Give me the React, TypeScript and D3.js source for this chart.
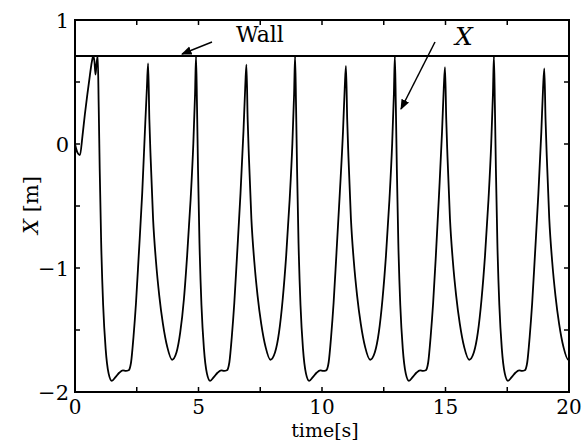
import * as d3 from "d3";

// time [s] and position X [m]
const timeS = [
  0, 0.1, 0.2, 0.3, 0.4, 0.5, 0.6, 0.68, 0.74, 0.79, 0.83, 0.87, 0.92,
  0.96, 1.0, 1.06, 1.14, 1.24, 1.36, 1.49, 1.64, 1.79, 1.94, 2.06, 2.17, 2.27, 2.37, 2.47, 2.58, 2.72, 2.83, 2.91, 2.96,
  3.01, 3.06, 3.16, 3.28, 3.41, 3.56, 3.74, 3.93, 4.11, 4.26, 4.41, 4.54, 4.68, 4.79, 4.86, 4.9,
  4.94, 4.98, 5.04, 5.12, 5.22, 5.34, 5.47, 5.62, 5.77, 5.92, 6.04, 6.15, 6.25, 6.35, 6.45, 6.56, 6.7, 6.82, 6.89, 6.94,
  6.99, 7.04, 7.14, 7.26, 7.39, 7.54, 7.72, 7.91, 8.1, 8.26, 8.41, 8.55, 8.69, 8.8, 8.87, 8.91,
  8.95, 8.99, 9.05, 9.13, 9.23, 9.35, 9.48, 9.63, 9.78, 9.93, 10.05, 10.17, 10.27, 10.37, 10.47, 10.58, 10.72, 10.85, 10.92, 10.97,
  11.02, 11.07, 11.17, 11.29, 11.42, 11.57, 11.75, 11.95, 12.14, 12.3, 12.45, 12.59, 12.73, 12.84, 12.91, 12.95,
  12.99, 13.03, 13.09, 13.17, 13.27, 13.39, 13.52, 13.67, 13.82, 13.97, 14.09, 14.2, 14.3, 14.4, 14.5, 14.61, 14.74, 14.86, 14.93, 14.98,
  15.03, 15.08, 15.18, 15.3, 15.43, 15.58, 15.76, 15.96, 16.15, 16.31, 16.46, 16.6, 16.74, 16.85, 16.92, 16.96,
  17.0, 17.04, 17.1, 17.18, 17.28, 17.4, 17.53, 17.68, 17.83, 17.98, 18.1, 18.21, 18.31, 18.41, 18.51, 18.62, 18.76, 18.88, 18.95, 19.0,
  19.05, 19.1, 19.2, 19.32, 19.45, 19.6, 19.78, 19.97, 20.0,
];

const posX = [
  0, -0.07, -0.09, 0.06, 0.24, 0.4, 0.55, 0.66, 0.71, 0.66, 0.56, 0.64, 0.71,
  0.3, -0.2, -0.8, -1.3, -1.65, -1.85, -1.91, -1.88, -1.845, -1.825, -1.83, -1.825, -1.76, -1.55, -1.28, -0.9, -0.4, 0.1, 0.45, 0.65,
  0.2, -0.1, -0.6, -0.95, -1.22, -1.45, -1.64, -1.74, -1.68, -1.52, -1.25, -0.9, -0.45, 0.0, 0.4, 0.71,
  0.3, -0.2, -0.8, -1.3, -1.65, -1.85, -1.91, -1.88, -1.845, -1.825, -1.83, -1.825, -1.76, -1.55, -1.28, -0.9, -0.4, 0.1, 0.45, 0.64,
  0.2, -0.1, -0.6, -0.95, -1.22, -1.45, -1.64, -1.74, -1.68, -1.52, -1.25, -0.9, -0.45, 0.0, 0.4, 0.71,
  0.3, -0.2, -0.8, -1.3, -1.65, -1.85, -1.91, -1.88, -1.845, -1.825, -1.83, -1.825, -1.76, -1.55, -1.28, -0.9, -0.4, 0.1, 0.45, 0.63,
  0.2, -0.1, -0.6, -0.95, -1.22, -1.45, -1.64, -1.74, -1.68, -1.52, -1.25, -0.9, -0.45, 0.0, 0.4, 0.71,
  0.3, -0.2, -0.8, -1.3, -1.65, -1.85, -1.91, -1.88, -1.845, -1.825, -1.83, -1.825, -1.76, -1.55, -1.28, -0.9, -0.4, 0.1, 0.45, 0.62,
  0.2, -0.1, -0.6, -0.95, -1.22, -1.45, -1.64, -1.74, -1.68, -1.52, -1.25, -0.9, -0.45, 0.0, 0.4, 0.71,
  0.3, -0.2, -0.8, -1.3, -1.65, -1.85, -1.91, -1.88, -1.845, -1.825, -1.83, -1.825, -1.76, -1.55, -1.28, -0.9, -0.4, 0.1, 0.45, 0.61,
  0.2, -0.1, -0.6, -0.95, -1.22, -1.45, -1.64, -1.74, -1.74,
];

const xTicks = [0, 5, 10, 15, 20];
const xMinor = [2.5, 7.5, 12.5, 17.5];
const yTicks = [-2, -1, 0, 1];
const yMinor = [-1.5, -0.5, 0.5];
const wallLevel = 0.71;

const font = "'DejaVu Serif', serif";

export default function App() {
  const x = d3.scaleLinear().domain([0, 20]).range([75, 569]);
  const y = d3.scaleLinear().domain([-2, 1]).range([392, 20]);

  const line = d3
    .line<number>()
    .x((_, i) => x(timeS[i]))
    .y((d) => y(d))
    .curve(d3.curveMonotoneX);

  const x0 = x(0), x1 = x(20), y0 = y(-2), y1 = y(1);
  const tl = 5;
  const allX = [...xTicks, ...xMinor];
  const allY = [...yTicks, ...yMinor];

  return (
    <svg
      width={586}
      height={443}
      style={{ position: "absolute", left: 0, top: 0, background: "#fff" }}
      fontFamily={font}
    >
      <defs>
        <marker id="ah" viewBox="0 0 10 10" refX="9" refY="5" markerWidth="7" markerHeight="7" orient="auto">
          <path d="M0,1 L10,5 L0,9 z" fill="#000" />
        </marker>
      </defs>

      <path d={line(posX) ?? ""} fill="none" stroke="#000" strokeWidth={1.8} />

      {/* wall */}
      <line x1={x0} x2={x1} y1={y(wallLevel)} y2={y(wallLevel)} stroke="#000" strokeWidth={2} />

      {/* frame */}
      <rect x={x0} y={y1} width={x1 - x0} height={y0 - y1} fill="none" stroke="#000" strokeWidth={2} />

      {allX.map((t) => (
        <g key={"xt" + t}>
          <line x1={x(t)} x2={x(t)} y1={y0} y2={y0 - tl} stroke="#000" strokeWidth={1.5} />
          <line x1={x(t)} x2={x(t)} y1={y1} y2={y1 + tl} stroke="#000" strokeWidth={1.5} />
        </g>
      ))}
      {allY.map((v) => (
        <g key={"yt" + v}>
          <line x1={x0} x2={x0 + tl} y1={y(v)} y2={y(v)} stroke="#000" strokeWidth={1.5} />
          <line x1={x1} x2={x1 - tl} y1={y(v)} y2={y(v)} stroke="#000" strokeWidth={1.5} />
        </g>
      ))}

      {xTicks.map((t) => (
        <text key={"xl" + t} x={x(t)} y={414} textAnchor="middle" fontSize={20}>
          {t}
        </text>
      ))}
      {yTicks.map((v) => (
        <text key={"yl" + v} x={69} y={y(v)} dy="0.36em" textAnchor="end" fontSize={21}>
          {v < 0 ? "\u2212" + Math.abs(v) : v}
        </text>
      ))}

      <text x={325} y={437} textAnchor="middle" fontSize={19}>
        time[s]
      </text>
      <text transform="translate(38,205) rotate(-90)" textAnchor="middle" fontSize={21}>
        <tspan fontStyle="italic">X</tspan> [m]
      </text>

      <text x={236} y={42} fontSize={22}>
        Wall
      </text>
      <line x1={212} y1={42} x2={182} y2={54} stroke="#000" strokeWidth={1.5} markerEnd="url(#ah)" />

      <text x={455} y={45} fontSize={25} fontStyle="italic">
        X
      </text>
      <line x1={435} y1={42} x2={401} y2={109} stroke="#000" strokeWidth={1.5} markerEnd="url(#ah)" />
    </svg>
  );
}
